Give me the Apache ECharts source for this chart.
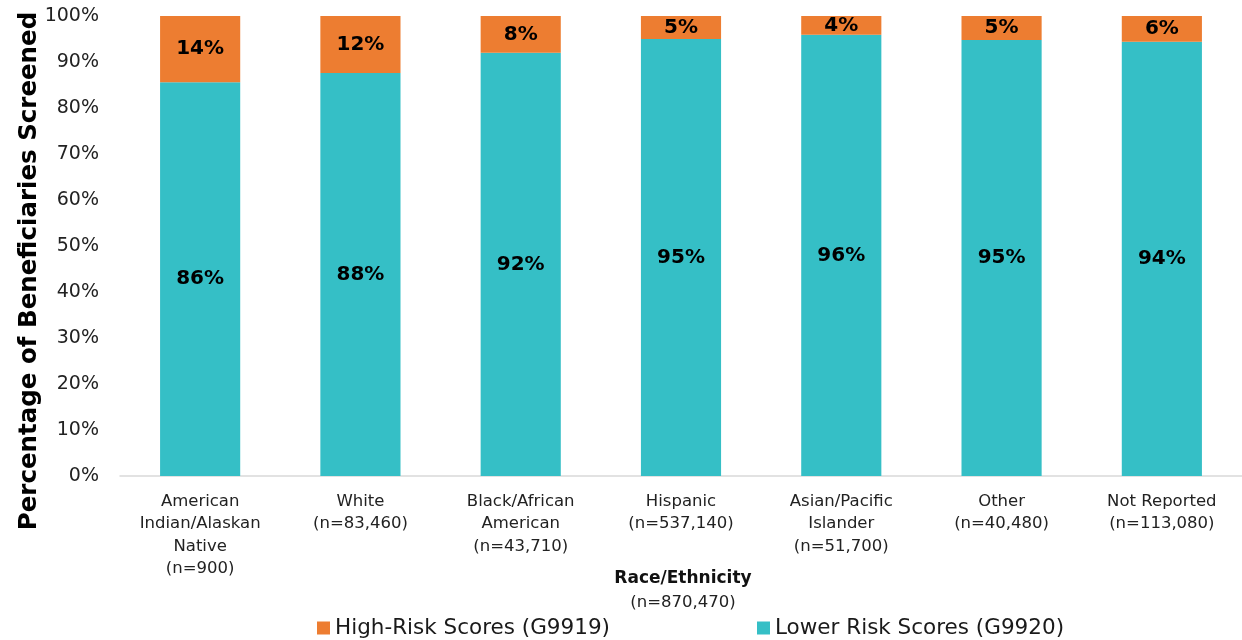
<!DOCTYPE html>
<html>
<head>
<meta charset="utf-8">
<script src="https://cdn.jsdelivr.net/npm/echarts@6/dist/echarts.min.js"></script>
<style>html,body{margin:0;padding:0;background:#fff}#c{width:1242px;height:640px}</style>
</head>
<body>
<div id="c"></div>
<script>
var categories = [
  'American\nIndian/Alaskan\nNative\n(n=900)',
  'White\n(n=83,460)',
  'Black/African\nAmerican\n(n=43,710)',
  'Hispanic\n(n=537,140)',
  'Asian/Pacific\nIslander\n(n=51,700)',
  'Other\n(n=40,480)',
  'Not Reported\n(n=113,080)'
];
var lowerRisk = [85.6, 87.6, 92.0, 95.0, 95.9, 94.8, 94.4];
var highRisk = [14.4, 12.4, 8.0, 5.0, 4.1, 5.2, 5.6];
var yTicks = [0, 10, 20, 30, 40, 50, 60, 70, 80, 90, 100];

var FONT = 'DejaVu Sans';
var chart = echarts.init(document.getElementById('c'));
var labelFmt = function (p) { return Math.round(p.value) + '%'; };
chart.setOption({
  animation: false,
  textStyle: { fontFamily: FONT },
  grid: { left: 120, right: -5, top: 16, bottom: 164 },
  legend: {
    left: 312, top: 612,
    itemWidth: 13, itemHeight: 13, itemGap: 147,
    icon: 'rect',
    data: ['High-Risk Scores (G9919)', 'Lower Risk Scores (G9920)'],
    textStyle: { fontFamily: FONT, fontSize: 21.5, color: '#1a1a1a' }
  },
  xAxis: {
    type: 'category',
    data: categories,
    axisLine: { lineStyle: { color: '#d9d9d9', width: 1.5 } },
    axisTick: { show: false },
    axisLabel: { interval: 0, margin: 14, fontSize: 16.5, lineHeight: 22.5, color: '#222', fontFamily: FONT }
  },
  yAxis: {
    type: 'value', min: yTicks[0], max: yTicks[yTicks.length - 1], interval: 10,
    axisLine: { show: false }, axisTick: { show: false },
    splitLine: { show: false },
    axisLabel: { formatter: '{value}%', fontSize: 19, color: '#222', margin: 21, padding: [5, 0, 0, 0], fontFamily: FONT }
  },
  graphic: [
    { type: 'text', x: 30, y: 271, rotation: Math.PI / 2, style: { text: 'Percentage of Beneficiaries Screened', fontFamily: FONT, fontWeight: 'bold', fontSize: 24.5, fill: '#000', align: 'center', verticalAlign: 'middle' } },
    { type: 'text', x: 683, y: 579, style: { text: 'Race/Ethnicity', fontFamily: FONT, fontWeight: 'bold', fontSize: 17, fill: '#111', align: 'center', verticalAlign: 'middle' } },
    { type: 'text', x: 683, y: 603, style: { text: '(n=870,470)', fontFamily: FONT, fontSize: 16.5, fill: '#222', align: 'center', verticalAlign: 'middle' } }
  ],
  series: [
    {
      name: 'Lower Risk Scores (G9920)', type: 'bar', stack: 'a', data: lowerRisk, barWidth: '50%',
      itemStyle: { color: '#35BFC6' },
      label: { show: true, position: 'inside', formatter: labelFmt, fontSize: 20, fontWeight: 'bold', color: '#000', fontFamily: FONT }
    },
    {
      name: 'High-Risk Scores (G9919)', type: 'bar', stack: 'a', data: highRisk, barWidth: '50%',
      itemStyle: { color: '#ED7D31' },
      label: { show: true, position: 'inside', formatter: labelFmt, fontSize: 20, fontWeight: 'bold', color: '#000', fontFamily: FONT }
    }
  ]
});
</script>
</body>
</html>
